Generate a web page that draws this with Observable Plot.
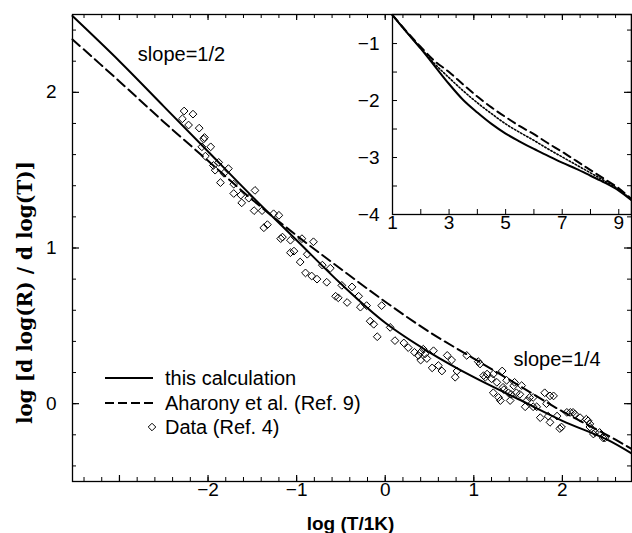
<!DOCTYPE html>
<html><head><meta charset="utf-8">
<script src="https://cdn.jsdelivr.net/npm/d3@7"></script>
<script src="https://cdn.jsdelivr.net/npm/@observablehq/plot@0.6"></script>
<style>
body{margin:0;background:#fff;}
#wrap{position:relative;width:632px;height:533px;overflow:hidden;background:#fff;}
#wrap svg{position:absolute;left:0;top:0;}
</style></head><body><div id="wrap"></div>
<script>
// ---- main panel data ----
const curveX   = [-3.53, -3, -2.5, -2, -1.5, -1, -0.5, 0, 0.5, 1, 1.5, 2, 2.5, 2.78];
const calcY    = [2.49, 2.20, 1.91, 1.62, 1.33, 1.05, 0.77, 0.52, 0.33, 0.17, 0.03, -0.11, -0.23, -0.32];
const aharonyY = [2.34, 2.07, 1.81, 1.56, 1.31, 1.08, 0.865, 0.655, 0.46, 0.29, 0.12, -0.05, -0.20, -0.29];
const dataPts = [
  [-2.27,1.88],[-2.17,1.86],[-2.29,1.83],[-2.22,1.79],[-2.10,1.77],[-2.04,1.71],[-2.05,1.70],[-1.97,1.65],[-2.07,1.65],
  [-2.03,1.59],[-1.88,1.55],[-1.77,1.51],[-1.94,1.53],[-1.82,1.48],[-1.92,1.50],[-1.71,1.41],[-1.86,1.42],[-1.47,1.37],
  [-1.71,1.35],[-1.63,1.34],[-1.62,1.29],[-1.54,1.32],[-1.48,1.24],[-1.39,1.24],[-1.26,1.22],[-1.20,1.21],[-1.33,1.15],
  [-1.37,1.13],[-1.16,1.07],[-1.18,1.06],[-1.07,1.05],[-0.94,1.06],[-0.81,1.04],[-1.03,0.98],[-0.88,0.96],[-1.07,0.97],
  [-0.96,0.91],[-0.90,0.84],[-0.83,0.82],[-0.77,0.80],[-0.71,0.89],[-0.62,0.87],[-0.66,0.78],[-0.49,0.76],[-0.375,0.75],
  [-0.56,0.69],[-0.53,0.68],[-0.43,0.65],[-0.30,0.69],[-0.28,0.62],[-0.21,0.63],[-0.04,0.63],[-0.17,0.53],[-0.13,0.51],
  [-0.09,0.43],[0.056,0.49],[0.11,0.405],[0.21,0.39],[0.26,0.36],[0.33,0.33],[0.40,0.33],[0.43,0.35],[0.545,0.34],
  [0.375,0.31],[0.40,0.28],[0.45,0.32],[0.47,0.29],[0.53,0.23],[0.60,0.245],[0.64,0.21],[0.70,0.31],[0.75,0.28],
  [0.92,0.31],[0.81,0.21],[1.05,0.27],[0.79,0.17],[1.11,0.18],[1.07,0.255],[1.13,0.17],[1.15,0.19],[1.20,0.16],
  [1.22,0.19],[1.22,0.07],[1.26,0.137],[1.28,0.04],[1.30,0.02],[1.32,0.21],[1.33,0.105],[1.34,0.09],[1.37,0.15],
  [1.39,0.07],[1.41,0.02],[1.42,0.06],[1.45,0.115],[1.46,0.137],[1.48,0.07],[1.52,0.06],[1.54,0.116],[1.60,0.02],
  [1.63,0.04],[1.58,-0.02],[1.67,0.04],[1.67,-0.02],[1.71,-0.02],[1.75,-0.09],[1.80,0.07],[1.82,0.00],[1.86,0.05],
  [1.90,0.05],[1.84,-0.08],[1.94,-0.08],[1.86,-0.12],[1.99,-0.15],[1.97,-0.16],[2.05,-0.056],[2.09,-0.056],[2.12,-0.056],
  [2.14,-0.067],[2.20,-0.09],[2.27,-0.10],[2.29,-0.11],[2.31,-0.13],[2.31,-0.15],[2.35,-0.195],[2.37,-0.185],[2.42,-0.185],
  [2.46,-0.22],[2.48,-0.22]
];
const xTickLabels = [-2, -1, 0, 1, 2];
const yTickLabels = [0, 1, 2];
const annotations = [
  {x: -2.30, y: 2.244, text: "slope=1/2"},
  {x: 1.94, y: 0.283, text: "slope=1/4"}
];
const legendLabels = ["this calculation", "Aharony et al. (Ref. 9)", "Data (Ref. 4)"];
const xTitle = "log (T/1K)";
const yTitle = "log [d log(R) / d log(T)]";

// ---- inset data ----
const insetX      = [1, 1.5, 2, 2.5, 3, 3.5, 4, 4.5, 5, 5.5, 6, 6.5, 7, 7.5, 8, 8.5, 9, 9.45];
const insetSolid  = [-0.50, -0.80, -1.09, -1.40, -1.71, -1.99, -2.21, -2.41, -2.58, -2.72, -2.85, -2.97, -3.09, -3.20, -3.32, -3.44, -3.58, -3.75];
const insetDotted = [-0.50, -0.80, -1.08, -1.36, -1.60, -1.83, -2.04, -2.23, -2.41, -2.56, -2.70, -2.85, -2.99, -3.13, -3.27, -3.41, -3.56, -3.74];
const insetDashed = [-0.50, -0.79, -1.06, -1.31, -1.50, -1.72, -1.93, -2.12, -2.29, -2.45, -2.59, -2.75, -2.90, -3.06, -3.22, -3.38, -3.54, -3.73];
const insetXTickLabels = [1, 3, 5, 7, 9];
const insetYTickLabels = [-1, -2, -3, -4];
const insetXTicks = [2, 3, 4, 5, 6, 7, 8, 9];
const insetYTicks = [-3.5, -3, -2.5, -2, -1.5, -1];

// tick positions (every 0.2)
const xMinor = d3.range(-17, 15).map(i => i / 5);
const yMinor = d3.range(-2, 13).map(i => i / 5);
const xMajor = [-3, -2, -1, 0, 1, 2];
const yMajor = [0, 1, 2];

const SANS = "'Liberation Sans', Arial, Helvetica, sans-serif";
const W = 632, H = 533, ML = 72, MR = 1, MT = 14, MB = 52;
const FW = W - ML - MR, FH = H - MT - MB;

const calc = curveX.map((x, i) => ({x, y: calcY[i]}));
const ahar = curveX.map((x, i) => ({x, y: aharonyY[i]}));
const pts = dataPts.map(([x, y]) => ({x, y}));

const main = Plot.plot({
  width: W, height: H,
  marginLeft: ML, marginRight: MR, marginTop: MT, marginBottom: MB,
  style: {background: "transparent", fontFamily: SANS, fontSize: "19px", color: "black", overflow: "visible"},
  x: {domain: [-3.53, 2.78], ticks: xTickLabels, tickFormat: "d", tickSize: 0, tickPadding: 1, label: null},
  y: {domain: [-0.5, 2.5], ticks: yTickLabels, tickFormat: "d", tickSize: 0, tickPadding: 16, label: null},
  marks: [
    Plot.tickX(xMinor, {x: d => d, insetBottom: FH - 4, stroke: "black", strokeWidth: 1}),
    Plot.tickX(xMinor, {x: d => d, insetTop: FH - 4, stroke: "black", strokeWidth: 1}),
    Plot.tickX(xMajor, {x: d => d, insetBottom: FH - 6, stroke: "black", strokeWidth: 1.2}),
    Plot.tickX(xMajor, {x: d => d, insetTop: FH - 6, stroke: "black", strokeWidth: 1.2}),
    Plot.tickY(yMinor, {y: d => d, insetRight: FW - 4, stroke: "black", strokeWidth: 1}),
    Plot.tickY(yMinor, {y: d => d, insetLeft: FW - 4, stroke: "black", strokeWidth: 1}),
    Plot.tickY(yMajor, {y: d => d, insetRight: FW - 7, stroke: "black", strokeWidth: 1.2}),
    Plot.tickY(yMajor, {y: d => d, insetLeft: FW - 7, stroke: "black", strokeWidth: 1.2}),
    Plot.line(ahar, {x: "x", y: "y", stroke: "black", strokeWidth: 2, strokeDasharray: "10,5", curve: "catmull-rom"}),
    Plot.line(calc, {x: "x", y: "y", stroke: "black", strokeWidth: 2, curve: "catmull-rom"}),
    Plot.dot(pts, {x: "x", y: "y", symbol: "diamond2", r: 3.5, stroke: "black", fill: "none", strokeWidth: 1}),
    Plot.text(annotations, {x: "x", y: "y", text: "text", fontSize: 20, fill: "black"}),
    Plot.text([xTitle], {text: d => d, frameAnchor: "bottom", textAnchor: "middle", lineAnchor: "middle", dy: 42, dx: -1.5, fontWeight: "bold", fontSize: 19, fill: "black"}),
    Plot.text([yTitle], {text: d => d, frameAnchor: "left", textAnchor: "middle", lineAnchor: "middle", dx: -47, dy: 44.5, rotate: -90, fontFamily: "'DejaVu Serif', serif", fontWeight: "bold", fontSize: 20, fill: "black"}),
    Plot.frame({stroke: "black", strokeWidth: 1.3})
  ]
});

// ---- inset plot ----
const IL = 330, IW = 302, IH = 240, IML = 62, IMR = 1, IMT = 14, IMB = 26;
const IFW = IW - IML - IMR, IFH = IH - IMT - IMB;
const iSolid = insetX.map((x, i) => ({x, y: insetSolid[i]}));
const iDot = insetX.map((x, i) => ({x, y: insetDotted[i]}));
const iDash = insetX.map((x, i) => ({x, y: insetDashed[i]}));

const inset = Plot.plot({
  width: IW, height: IH,
  marginLeft: IML, marginRight: IMR, marginTop: IMT, marginBottom: IMB,
  style: {background: "transparent", fontFamily: SANS, fontSize: "19px", color: "black", overflow: "visible"},
  x: {domain: [1, 9.45], ticks: insetXTickLabels, tickFormat: "d", tickSize: 0, tickPadding: 1, label: null},
  y: {domain: [-4, -0.49], ticks: insetYTickLabels, tickFormat: "d", tickSize: 0, tickPadding: 13, label: null},
  marks: [
    Plot.frame({fill: "white", stroke: "black", strokeWidth: 1.3}),
    Plot.tickX(insetXTicks, {x: d => d, insetTop: IFH - 5, stroke: "black", strokeWidth: 1}),
    Plot.tickY(insetYTicks, {y: d => d, insetRight: IFW - 5, stroke: "black", strokeWidth: 1}),
    Plot.line(iDash, {x: "x", y: "y", stroke: "black", strokeWidth: 2, strokeDasharray: "8,5", curve: "catmull-rom"}),
    Plot.line(iDot, {x: "x", y: "y", stroke: "black", strokeWidth: 1.6, strokeDasharray: "1.5,2", curve: "catmull-rom"}),
    Plot.line(iSolid, {x: "x", y: "y", stroke: "black", strokeWidth: 2, curve: "catmull-rom"})
  ]
});
inset.style.left = IL + "px";

const wrap = document.getElementById("wrap");
wrap.appendChild(inset);
wrap.appendChild(main);

// ---- legend (inside main panel) ----
const leg = d3.select(wrap).append("svg")
  .attr("width", W).attr("height", H)
  .style("font-family", SANS).style("font-size", "20px");
const rows = [
  {y: 378, label: legendLabels[0], kind: "solid"},
  {y: 403, label: legendLabels[1], kind: "dash"},
  {y: 427, label: legendLabels[2], kind: "dot"}
];
rows.forEach(r => {
  if (r.kind === "solid" || r.kind === "dash") {
    leg.append("line").attr("x1", 105).attr("x2", 153).attr("y1", r.y).attr("y2", r.y)
      .attr("stroke", "black").attr("stroke-width", 2)
      .attr("stroke-dasharray", r.kind === "dash" ? "9,4" : null);
  } else {
    leg.append("path").attr("d", d3.symbol(d3.symbolDiamond2, Math.PI * 3.4 * 3.4)())
      .attr("transform", `translate(152,${r.y})`).attr("fill", "none").attr("stroke", "black");
  }
  leg.append("text").attr("x", 165).attr("y", r.y).attr("dy", "0.35em").text(r.label);
});
</script></body></html>
